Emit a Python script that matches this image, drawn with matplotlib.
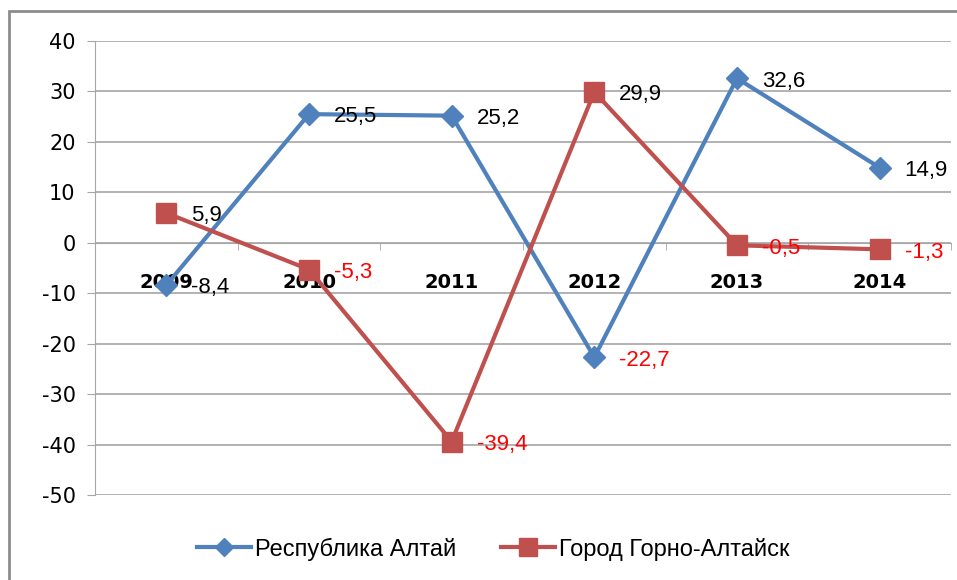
import matplotlib.pyplot as plt
from matplotlib.patches import Rectangle

plt.rcParams['axes.unicode_minus'] = False

years = ['2009', '2010', '2011', '2012', '2013', '2014']
altai_rep = [-8.4, 25.5, 25.2, -22.7, 32.6, 14.9]
gorno_altaisk = [5.9, -5.3, -39.4, 29.9, -0.5, -1.3]
# цвета подписей значений как в исходнике
altai_lbl_col = ['black', 'black', 'black', 'red', 'black', 'black']
gorno_lbl_col = ['black', 'red', 'red', 'black', 'red', 'red']

blue = '#4F81BD'
red = '#C0504D'

fig = plt.figure(figsize=(9.57, 5.8), dpi=100)
ax = fig.add_axes([95 / 957, 1 - 495 / 580, (951 - 95) / 957, (495 - 41) / 580])

for s in ('top', 'right'):
    ax.spines[s].set_visible(False)
ax.spines['left'].set_color('#A6A6A6')
ax.spines['bottom'].set_color('#A6A6A6')
ax.spines['bottom'].set_position(('data', 0))

x = range(len(years))
ax.plot(x, altai_rep, color=blue, lw=3, marker='D', ms=11, label='Республика Алтай', zorder=3)
ax.plot(x, gorno_altaisk, color=red, lw=3, marker='s', ms=15, label='Город Горно-Алтайск', zorder=3)

def fmt(v):
    return f'{v:.1f}'.replace('.', ',')

for serie, cols in ((altai_rep, altai_lbl_col), (gorno_altaisk, gorno_lbl_col)):
    for i, v in enumerate(serie):
        ax.annotate(fmt(v), (i, v), xytext=(18, -2), textcoords='offset points',
                    ha='left', va='center', fontsize=16, family='Liberation Sans',
                    color=cols[i], zorder=4)

ax.set_xlim(-0.5, 5.5)
ax.set_ylim(-50, 40)
ax.set_yticks(range(-50, 41, 10))
ax.yaxis.grid(True, color='#A6A6A6', lw=1.2)
ax.set_axisbelow(True)
ax.tick_params(axis='y', labelsize=15, length=6, color='#A6A6A6', pad=8)

ax.set_xticks(list(x))
ax.set_xticklabels(years, fontweight='bold', fontsize=14)
ax.set_xticks([i - 0.5 for i in range(len(years) + 1)], minor=True)
ax.tick_params(axis='x', which='major', length=0, pad=22)
ax.tick_params(axis='x', which='minor', length=5, color='#A6A6A6', direction='out')

ax.legend(loc='center', bbox_to_anchor=(493 / 957, 1 - 549 / 580), bbox_transform=fig.transFigure,
          ncol=2, frameon=False, prop={'family': 'Liberation Sans', 'size': 17},
          handlelength=2.3, columnspacing=1.9, handletextpad=0.15, markerscale=0.85)

fig.patches.append(Rectangle((9 / 957, -0.1), 1.2, 1 - 11 / 580 + 0.1, transform=fig.transFigure,
                             fill=False, edgecolor='#8C8C8C', lw=2))

fig.savefig('out.png', dpi=100)
